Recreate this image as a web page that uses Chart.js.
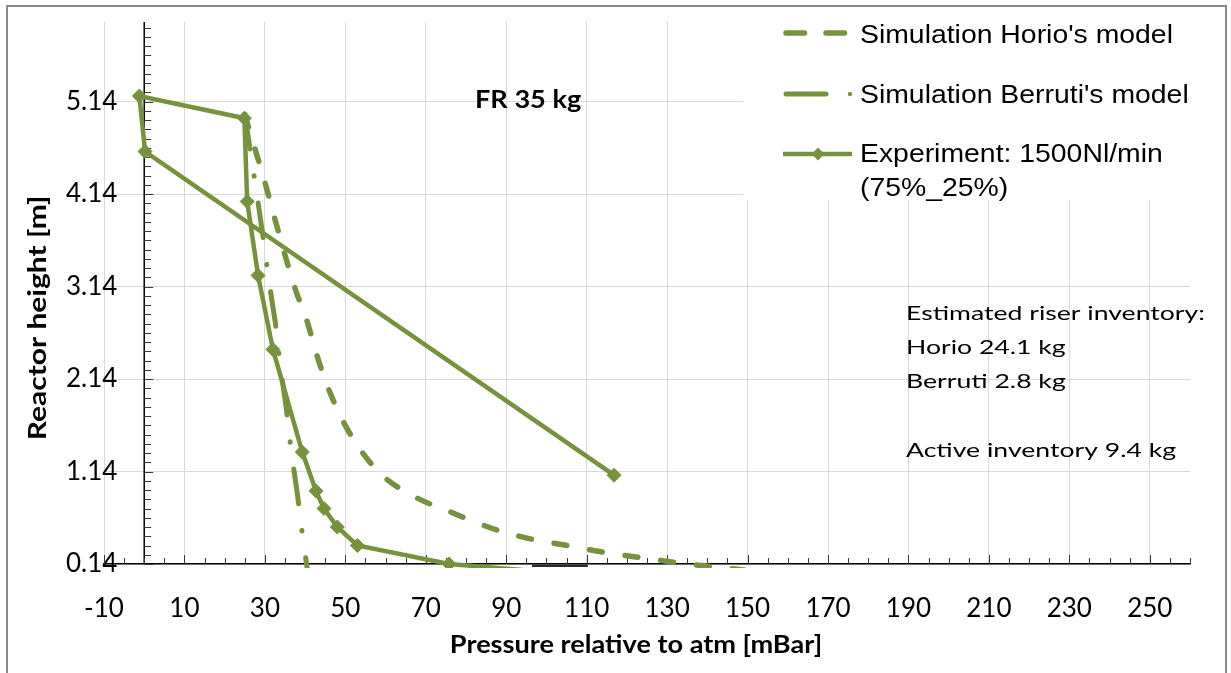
<!DOCTYPE html>
<html>
<head>
<meta charset="utf-8">
<script src="https://cdn.jsdelivr.net/npm/chart.js@4.4.1/dist/chart.umd.min.js"></script>
<style>
  html, body { margin: 0; padding: 0; background: #fff; overflow: hidden; }
  canvas { display: block; }
</style>
</head>
<body>
<canvas id="riser" width="1231" height="673"></canvas>
<script>
// Pressure profile along the riser, FR 35 kg
const GREEN = '#76923C';

// Simulation, Horio's model: pressure [mBar] and height [m]
const horioPressure = [25.0, 27.6, 29.6, 32.3, 35.0, 37.8, 40.0, 44.0, 47.7, 52.4, 58.9, 67.1, 76.3, 85.5, 95.2, 105.1, 115.1, 125.0, 135.0, 143.6, 160.0];
const horioHeight   = [5.00, 4.62, 4.33, 3.90, 3.48, 3.08, 2.83, 2.25, 1.84, 1.46, 1.11, 0.87, 0.70, 0.54, 0.42, 0.34, 0.26, 0.20, 0.14, 0.10, 0.02];

// Simulation, Berruti's model
const berrutiPressure = [25.0, 28.1, 29.8, 31.0, 32.6, 33.9, 35.3, 36.6, 38.1, 39.4, 40.7];
const berrutiHeight   = [5.00, 4.11, 3.60, 3.20, 2.75, 2.26, 1.83, 1.34, 0.89, 0.43, 0.04];

// Experiment: 1500 Nl/min (75%_25%), in measurement order
const expPressure = [116.8, 0.2, -1.2, 24.9, 25.6, 28.3, 32.0, 39.3, 42.7, 44.7, 48.0, 53.0, 75.8, 115.0];
const expHeight   = [1.10, 4.60, 5.20, 4.96, 4.06, 3.26, 2.46, 1.35, 0.93, 0.74, 0.54, 0.34, 0.14, 0.00];

// short dark stroke lying on the pressure axis
const floorMarkPressure = [96.4, 110.3];
const floorMarkHeight   = [0.12, 0.12];

// axis ticks
const xTicks = [-10, 10, 30, 50, 70, 90, 110, 130, 150, 170, 190, 210, 230, 250];
const yTicks = [0.14, 1.14, 2.14, 3.14, 4.14, 5.14];

const chartTitle = 'FR 35 kg';
const xTitle = 'Pressure relative to atm [mBar]';
const yTitle = 'Reactor height [m]';
const inventoryNotes = ['Estimated riser inventory:', 'Horio 24.1 kg', 'Berruti 2.8 kg', '', 'Active inventory 9.4 kg'];

const pts = (xs, ys) => xs.map((v, i) => ({ x: v, y: ys[i] }));

const HORIO_DASH = [13, 23];
const BERRUTI_DASH = [35, 27, 0.5, 27];

// text drawn with a horizontal stretch factor sx
function wideText(ctx, text, x, y, sx, align) {
  ctx.save();
  ctx.translate(x, y);
  ctx.scale(sx, 1);
  ctx.textAlign = align || 'left';
  ctx.fillText(text, 0, 0);
  ctx.restore();
}

const chartDecor = {
  id: 'chartDecor',
  beforeDraw(chart) {
    const { ctx, width, height } = chart;
    ctx.save();
    ctx.fillStyle = '#fff';
    ctx.fillRect(0, 0, width, height);
    ctx.restore();
  },
  beforeDatasetsDraw(chart) {
    const { ctx, chartArea: a, scales: { x, y } } = chart;
    ctx.save();
    // white panel behind the legend
    ctx.fillStyle = '#fff';
    ctx.fillRect(743, a.top - 2, a.right - 743 + 3, 200 - a.top + 2);

    // vertical axis crossing at 0 mBar
    const x0 = x.getPixelForValue(0);
    ctx.strokeStyle = '#000';
    ctx.lineWidth = 1.5;
    ctx.beginPath();
    ctx.moveTo(x0, a.top);
    ctx.lineTo(x0, a.bottom);
    ctx.stroke();

    // minor / major tick marks, pointing into the plot
    ctx.strokeStyle = '#3a3a3a';
    ctx.lineWidth = 1;
    ctx.beginPath();
    for (let k = 0; ; k++) {
      const v = y.min + k * 0.1;
      if (v > y.max + 1e-9) break;
      const py = Math.round(y.getPixelForValue(v)) + 0.5;
      ctx.moveTo(x0, py);
      ctx.lineTo(x0 + (k % 10 === 0 ? 9 : 7), py);
    }
    for (let k = 0; ; k++) {
      const v = x.min + k * 5;
      if (v > x.max + 1e-9) break;
      const px = Math.round(x.getPixelForValue(v)) + 0.5;
      ctx.moveTo(px, a.bottom);
      ctx.lineTo(px, a.bottom - (k % 4 === 0 ? 9 : 6));
    }
    ctx.stroke();
    ctx.restore();
  },
  afterDraw(chart) {
    const { ctx } = chart;
    const ds = chart.data.datasets;
    ctx.save();

    // legend
    ctx.font = '25px "Liberation Sans", Arial, sans-serif';
    ctx.fillStyle = '#000';
    ctx.textBaseline = 'alphabetic';
    const lx0 = 786, textX = 860;
    const rows = [
      { d: ds[1], y: 33, base: [43] },
      { d: ds[2], y: 94, base: [103] },
      { d: ds[0], y: 154, base: [162, 196] }
    ];
    rows.forEach((r, idx) => {
      ctx.strokeStyle = r.d.borderColor;
      ctx.lineWidth = r.d.borderWidth;
      ctx.lineCap = 'round';
      if (idx === 0) {
        ctx.setLineDash([18.5, 21.5]);
        ctx.beginPath(); ctx.moveTo(lx0, r.y); ctx.lineTo(lx0 + 58.5, r.y); ctx.stroke();
      } else if (idx === 1) {
        ctx.setLineDash([]);
        ctx.beginPath(); ctx.moveTo(lx0, r.y); ctx.lineTo(lx0 + 40, r.y); ctx.stroke();
        ctx.fillStyle = r.d.borderColor;
        ctx.beginPath(); ctx.arc(850, r.y, 2.2, 0, Math.PI * 2); ctx.fill();
      } else {
        ctx.setLineDash([]);
        ctx.lineCap = 'butt';
        ctx.beginPath(); ctx.moveTo(783, r.y); ctx.lineTo(852, r.y); ctx.stroke();
        ctx.fillStyle = r.d.pointBackgroundColor;
        const s = r.d.pointRadius - 0.5;
        ctx.beginPath();
        ctx.moveTo(818, r.y - s); ctx.lineTo(818 + s, r.y); ctx.lineTo(818, r.y + s); ctx.lineTo(818 - s, r.y);
        ctx.closePath(); ctx.fill();
      }
      ctx.setLineDash([]);
      ctx.fillStyle = '#000';
      r.d.label.split('\n').forEach((line, i) => wideText(ctx, line, textX, r.base[i], 1.135));
    });

    // chart title inside the plot
    ctx.font = 'bold 24px Lato, sans-serif';
    wideText(ctx, chartTitle, 475, 108, 1.13);

    // inventory notes
    ctx.font = '20px Lato, sans-serif';
    inventoryNotes.forEach((t, i) => { if (t) wideText(ctx, t, 906, 320 + i * 34.2, 1.33); });

    // axis titles
    ctx.font = 'bold 24px Lato, sans-serif';
    ctx.textBaseline = 'middle';
    wideText(ctx, xTitle, 636, 645, 1.13, 'center');
    ctx.save();
    ctx.translate(38, 318);
    ctx.rotate(-Math.PI / 2);
    wideText(ctx, yTitle, 0, 0, 1.25, 'center');
    ctx.restore();

    // outer frame
    ctx.strokeStyle = '#8a8a8a';
    ctx.lineWidth = 2;
    ctx.strokeRect(7, 6, 1219, 720);
    ctx.restore();
  }
};

const clipBelow = { left: 0, top: 0, right: 0, bottom: 4 };

new Chart(document.getElementById('riser'), {
  type: 'line',
  data: {
    datasets: [
      {
        label: 'Experiment: 1500Nl/min\n(75%_25%)',
        data: pts(expPressure, expHeight),
        borderColor: GREEN,
        backgroundColor: GREEN,
        borderWidth: 4.5,
        pointStyle: 'rectRot',
        pointRadius: 7,
        pointBackgroundColor: GREEN,
        pointBorderColor: GREEN,
        pointBorderWidth: 1,
        tension: 0,
        clip: clipBelow,
        order: 0
      },
      {
        label: "Simulation Horio's model",
        data: pts(horioPressure, horioHeight),
        borderColor: GREEN,
        borderWidth: 5.5,
        borderDash: HORIO_DASH,
        borderCapStyle: 'round',
        pointRadius: 0,
        cubicInterpolationMode: 'monotone',
        clip: clipBelow,
        order: 2
      },
      {
        label: "Simulation Berruti's model",
        data: pts(berrutiPressure, berrutiHeight),
        borderColor: GREEN,
        borderWidth: 5,
        borderDash: BERRUTI_DASH,
        borderCapStyle: 'round',
        pointRadius: 0,
        tension: 0,
        clip: clipBelow,
        order: 1
      },
      {
        label: '',
        data: pts(floorMarkPressure, floorMarkHeight),
        borderColor: '#2b2b2b',
        borderWidth: 2.5,
        pointRadius: 0,
        clip: clipBelow,
        order: 3
      }
    ]
  },
  options: {
    responsive: false,
    animation: false,
    events: [],
    layout: { padding: { left: 104, right: 41, top: 22, bottom: 0 } },
    plugins: { legend: { display: false }, tooltip: { enabled: false }, title: { display: false } },
    scales: {
      x: {
        type: 'linear',
        position: 'bottom',
        min: -10,
        max: 260,
        afterBuildTicks: s => { s.ticks = xTicks.map(v => ({ value: v })); },
        afterFit: s => { s.height = 109; },
        ticks: {
          autoSkip: false,
          maxRotation: 0,
          padding: 29,
          color: '#000',
          font: { family: 'Lato', size: 26 },
          callback: v => String(v)
        },
        grid: { color: '#D9D9D9', lineWidth: 1, drawTicks: false },
        border: { display: true, color: '#000', width: 1.5 }
      },
      y: {
        type: 'linear',
        position: 'left',
        min: 0.14,
        max: 6.0,
        afterBuildTicks: s => { s.ticks = yTicks.map(v => ({ value: v })); },
        afterFit: s => { s.width = 0; },
        ticks: {
          mirror: true,
          crossAlign: 'near',
          padding: -38,
          color: '#000',
          font: { family: 'Lato', size: 26 },
          callback: v => v.toFixed(2)
        },
        grid: { color: '#D9D9D9', lineWidth: 1, drawTicks: false },
        border: { display: false }
      }
    }
  },
  plugins: [chartDecor]
});
</script>
</body>
</html>
